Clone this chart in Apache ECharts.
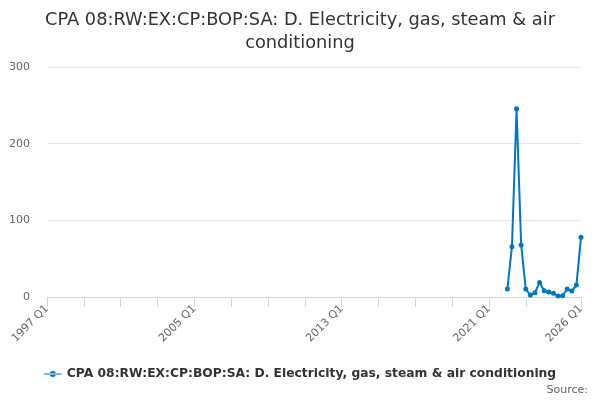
<!DOCTYPE html>
<html>
<head>
<meta charset="utf-8">
<script src="https://cdn.jsdelivr.net/npm/echarts@6/dist/echarts.min.js"></script>
<style>
	html, body { margin: 0; padding: 0; background: #fff; }
	#chart { width: 600px; height: 400px; }
</style>
</head>
<body>
<div id="chart"></div>
<script>
// Quarters 1997 Q1 .. 2026 Q1
var quarters = []
for (var y = 1997; y <= 2026; y++) {
	for (var q = 1; q <= 4; q++) {
		if (y === 2026 && q > 1) break
		quarters.push(y + ' Q' + q)
	}
}

// Observed values, 2022 Q1 .. 2026 Q1
var firstQuarter = '2022 Q1'
var observed = [10.4, 65.6, 245.5, 67.8, 10.4, 2.6, 5.6, 19, 8.2, 6.5, 4.8, 1.3, 1.7, 10.4, 7.8, 15.6, 77.8]

var yTicks = [0, 100, 200, 300]
var labelQuarters = ['1997 Q1', '2005 Q1', '2013 Q1', '2021 Q1', '2026 Q1']

var seriesName = 'CPA 08:RW:EX:CP:BOP:SA: D. Electricity, gas, steam & air conditioning'

// Pad with nulls before data starts
var start = quarters.indexOf(firstQuarter)
var values = quarters.map((q, i) => (i >= start ? observed[i - start] : null))

var chart = echarts.init(document.getElementById('chart'))
var last = quarters.length - 1

var option = {
	animation: false,
	title: {
		text: 'CPA 08:RW:EX:CP:BOP:SA: D. Electricity, gas, steam & air\nconditioning',
		left: 'center',
		top: 4,
		textStyle: {
			fontFamily: 'DejaVu Sans',
			fontSize: 17.8,
			fontWeight: 'normal',
			color: '#333333',
			lineHeight: 23,
		},
	},
	grid: {
		left: 47,
		right: 19,
		top: 67,
		bottom: 103,
	},
	legend: {
		bottom: 15,
		left: 'center',
		itemWidth: 18,
		itemHeight: 8,
		itemGap: 4,
		icon: 'path://M0,3.5 L18,3.5 L18,4.5 L0,4.5 Z M6,4 A3,3 0 1,0 12,4 A3,3 0 1,0 6,4 Z',
		textStyle: {
			fontFamily: 'DejaVu Sans',
			fontSize: 12.3,
			fontWeight: 'bold',
			color: '#333333',
		},
		data: [seriesName],
	},
	graphic: [
		{
			type: 'text',
			right: 12,
			bottom: 4,
			style: {
				text: 'Source:',
				fontFamily: 'DejaVu Sans',
				fontSize: 11,
				fill: '#666666',
			},
		},
	],
	xAxis: {
		type: 'category',
		data: quarters,
		boundaryGap: false,
		axisLine: { lineStyle: { color: '#ccd6eb' } },
		axisTick: {
			length: 10,
			lineStyle: { color: '#ccd6eb' },
			interval: (i) => (i % 8 === 0 && i !== 112) || i === last,
		},
		axisLabel: {
			interval: (i, v) => labelQuarters.indexOf(v) >= 0,
			rotate: 45,
			fontFamily: 'DejaVu Sans',
			fontSize: 11,
			color: '#666666',
			margin: 10,
		},
		splitLine: { show: false },
	},
	yAxis: {
		type: 'value',
		min: yTicks[0],
		max: yTicks[yTicks.length - 1],
		interval: 100,
		axisLine: { show: false },
		axisTick: { show: false },
		axisLabel: {
			fontFamily: 'DejaVu Sans',
			fontSize: 11,
			color: '#666666',
			margin: 17,
		},
		splitLine: { lineStyle: { color: '#e6e6e6' } },
	},
	series: [
		{
			name: seriesName,
			type: 'line',
			data: values,
			connectNulls: false,
			symbol: 'circle',
			symbolSize: 5,
			showSymbol: true,
			showAllSymbol: true,
			lineStyle: { width: 2, color: '#0077c0' },
			itemStyle: { color: '#0077c0' },
		},
	],
}

chart.setOption(option)
</script>
</body>
</html>
